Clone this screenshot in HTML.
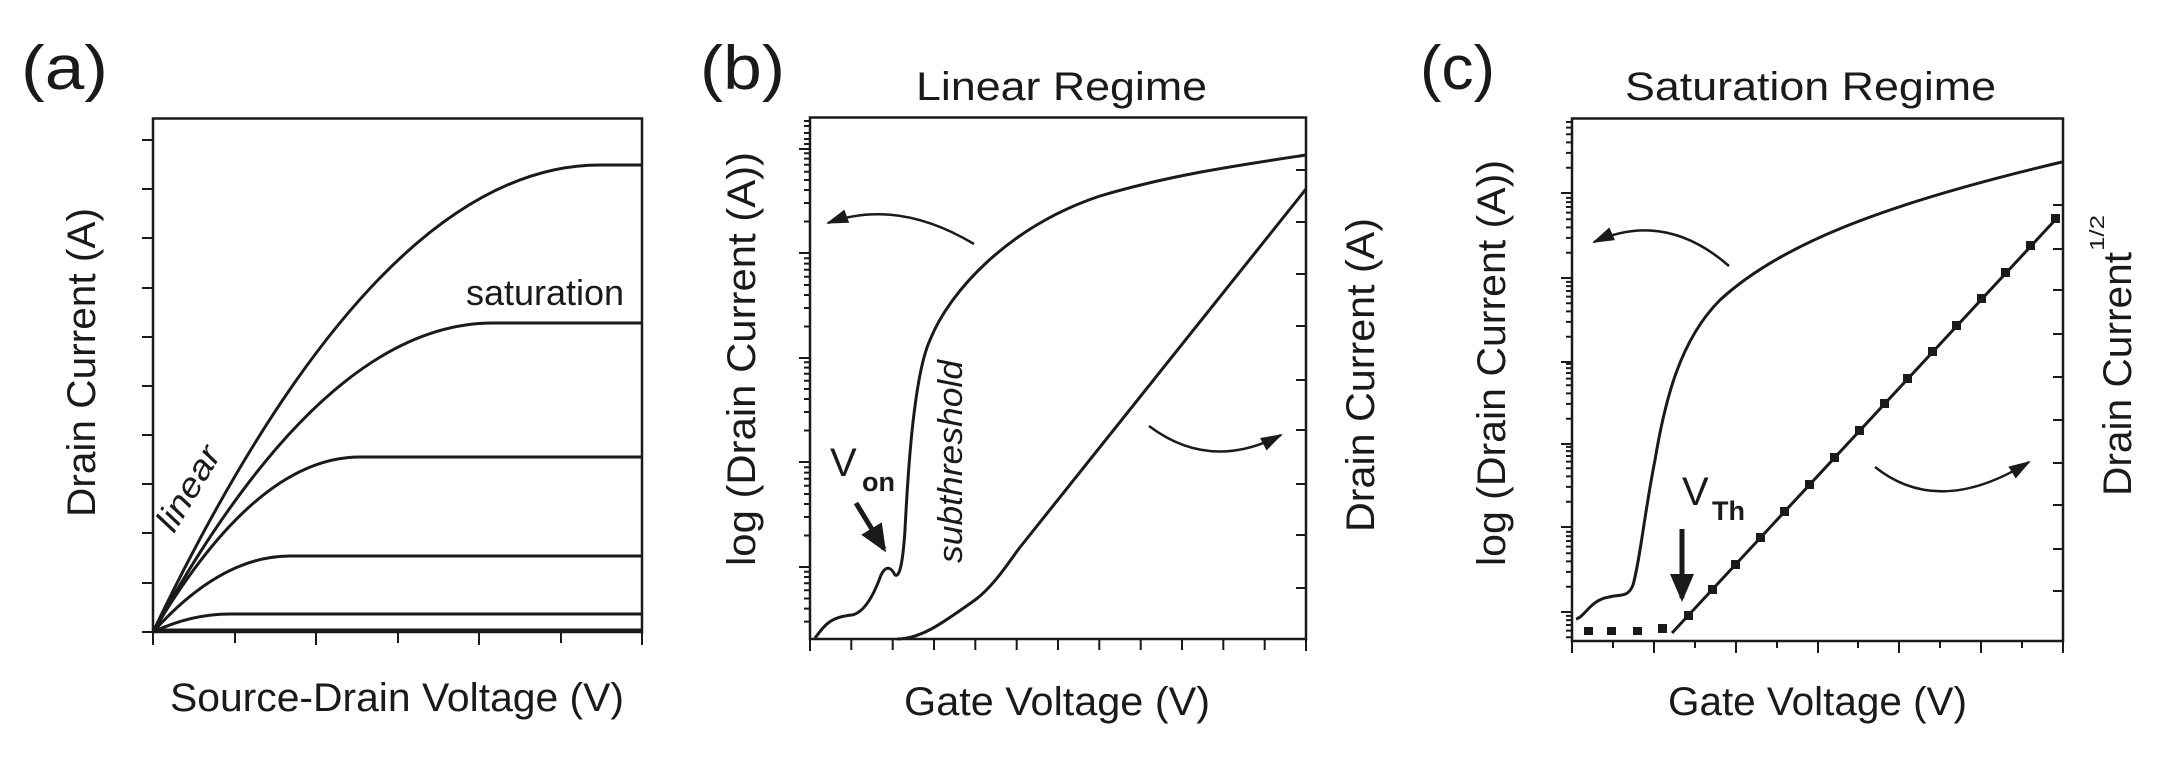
<!DOCTYPE html>
<html><head><meta charset="utf-8"><style>
html,body{margin:0;padding:0;background:#fff;}
svg{display:block;}
text{font-family:"Liberation Sans",Arial,sans-serif;fill:#1a1a1a;}
</style></head><body>
<svg width="2160" height="758" viewBox="0 0 2160 758" xmlns="http://www.w3.org/2000/svg">
<defs>
<marker id="ah" markerUnits="userSpaceOnUse" markerWidth="24" markerHeight="18" refX="20" refY="9" orient="auto">
<path d="M0,2 L22,9 L0,16 Z" fill="#1a1a1a"/></marker>
<marker id="ahb" markerUnits="userSpaceOnUse" markerWidth="30" markerHeight="30" refX="24" refY="15" orient="auto">
<path d="M0,3 L28,15 L0,27 Z" fill="#1a1a1a"/></marker>
</defs>
<g fill="none" stroke="#1a1a1a" stroke-width="3">
<!-- Panel a -->
<rect x="153" y="118.5" width="489" height="513.5" stroke-width="2.5"/>
<path stroke-width="2" d="M142 140H153M142 189H153M142 238H153M142 288H153M142 337H153M142 386H153M142 435H153M142 484H153M142 533H153M142 583H153M142 632H153
M153 632V645M235 632V643M316 632V645M398 632V643M479 632V645M561 632V643M642 632V645"/>
<path d="M153 632 Q376 165 600 165 L642 165"/>
<path d="M153 632 Q323 323 493 323 L642 323"/>
<path d="M153 632 Q256 457 360 457 L642 457"/>
<path d="M153 632 Q221 556 290 556 L642 556"/>
<path d="M153 632 Q191 614 230 614 L642 614"/>
<path d="M153 630 L642 630"/>
<!-- Panel b -->
<rect x="810" y="117.5" width="496" height="521.5" stroke-width="2.5"/>
<path stroke-width="2" d="M799 149H810M799 253H810M799 358H810M799 462H810M799 567H810
M804 221.5H810M804 203H810M804 190H810M804 180H810M804 171.7H810M804 164.7H810M804 158.6H810M804 153.3H810
M804 326.5H810M804 308H810M804 295H810M804 285H810M804 276.7H810M804 269.7H810M804 263.6H810M804 258.3H810
M804 430.5H810M804 412H810M804 399H810M804 389H810M804 380.7H810M804 373.7H810M804 367.6H810M804 362.3H810
M804 535.5H810M804 517H810M804 504H810M804 494H810M804 485.7H810M804 478.7H810M804 472.6H810M804 467.3H810
M804 621.6H810M804 608.6H810M804 598.5H810M804 590.2H810M804 583.2H810M804 577H810M804 571.8H810
M804 144H810M804 139H810M804 133H810M804 126H810M804 121H810
M1306 170H1296M1306 222H1296M1306 274H1296M1306 326H1296M1306 380H1296M1306 430H1296M1306 484H1296M1306 535H1296M1306 588H1296
M810 639V651M851.3 639V650M892.7 639V650M934 639V650M975.3 639V650M1016.7 639V650M1058 639V650M1099.3 639V650M1140.7 639V650M1182 639V650M1223.3 639V650M1264.7 639V650M1306 639V651"/>
<path d="M815 638 C825 625,830 617,852 615 C862 613,872 600,881 575 C885 567,890 565,895 575 C900 578,903 560,905 530 C908 470,914 375,930 340 C950 290,1010 226,1100 196 C1170 175,1240 165,1306 155"/>
<path d="M897 639 C920 639,940 625,975 600 C995 585,1010 560,1021 546 L1306 189"/>
<path stroke-width="2.5" d="M974 244 Q897 198 828 223" marker-end="url(#ah)"/>
<path stroke-width="2.5" d="M1149 426 Q1210 472 1281 435" marker-end="url(#ah)"/>
<path stroke-width="5" d="M856 503 L884 549" marker-end="url(#ahb)"/>
<!-- Panel c -->
<rect x="1572" y="118.5" width="491" height="522.5" stroke-width="2.5"/>
<path stroke-width="2" d="M1561 193H1572M1561 278H1572M1561 362H1572M1561 444H1572M1561 527H1572M1561 612H1572
M1566 167.7H1572M1566 152.9H1572M1566 142.4H1572M1566 134.3H1572M1566 127.6H1572M1566 122H1572
M1566 252.7H1572M1566 237.9H1572M1566 227.4H1572M1566 219.3H1572M1566 212.6H1572M1566 207H1572M1566 202.1H1572M1566 197.9H1572
M1566 336.7H1572M1566 321.9H1572M1566 311.4H1572M1566 303.3H1572M1566 296.6H1572M1566 291H1572M1566 286.1H1572M1566 281.9H1572
M1566 418.7H1572M1566 403.9H1572M1566 393.4H1572M1566 385.3H1572M1566 378.6H1572M1566 373H1572M1566 368.1H1572M1566 363.9H1572
M1566 501.7H1572M1566 486.9H1572M1566 476.4H1572M1566 468.3H1572M1566 461.6H1572M1566 456H1572M1566 451.1H1572M1566 446.9H1572
M1566 586.7H1572M1566 571.9H1572M1566 561.4H1572M1566 553.3H1572M1566 546.6H1572M1566 541H1572M1566 536.1H1572M1566 531.9H1572
M1566 637.3H1572M1566 630.6H1572M1566 625H1572M1566 620.1H1572M1566 615.9H1572
M2063 205H2053M2063 249H2053M2063 290H2053M2063 334H2053M2063 377H2053M2063 420H2053M2063 463H2053M2063 505H2053M2063 549H2053M2063 591H2053
M1572 641V653M1613 641V648M1654 641V653M1695 641V648M1736 641V653M1777 641V648M1818 641V653M1858 641V648M1899 641V653M1940 641V648M1981 641V653M2022 641V648M2063 641V653"/>
<path d="M1576 619 C1585 617,1590 600,1609 597 C1620 594,1628 598,1633 585 C1640 560,1645 510,1655 460 C1665 400,1680 340,1720 300 C1780 245,1880 205,2062 162"/>
<path d="M1672 633 L2057 218"/>
<path stroke-width="2.5" d="M1729 266 Q1665 210 1594 242" marker-end="url(#ah)"/>
<path stroke-width="2.5" d="M1875 467 Q1939 518 2029 462" marker-end="url(#ah)"/>
<path stroke-width="5" d="M1682 529 L1682 598" marker-end="url(#ahb)"/>
</g>
<g fill="#1a1a1a">
<rect x="1584" y="627" width="9" height="8"/><rect x="1607" y="627" width="9" height="8"/><rect x="1633" y="627" width="9" height="8"/><rect x="1658" y="624" width="9" height="9"/>
<rect x="1684" y="611" width="9" height="9"/><rect x="1708" y="585" width="9" height="9"/><rect x="1731" y="560" width="9" height="9"/><rect x="1756" y="533" width="9" height="9"/><rect x="1780" y="507" width="9" height="9"/><rect x="1805" y="480" width="9" height="9"/><rect x="1830" y="453" width="9" height="9"/><rect x="1855" y="426" width="9" height="9"/><rect x="1880" y="399" width="9" height="9"/><rect x="1903" y="374" width="9" height="9"/><rect x="1928" y="347" width="9" height="9"/><rect x="1952" y="321" width="9" height="9"/><rect x="1977" y="294" width="9" height="9"/><rect x="2001" y="268" width="9" height="9"/><rect x="2026" y="241" width="9" height="9"/><rect x="2051" y="214" width="9" height="9"/>
</g>
<!-- text -->
<text x="21" y="89" font-size="62" textLength="87" lengthAdjust="spacingAndGlyphs">(a)</text>
<text x="700" y="89" font-size="62" textLength="85" lengthAdjust="spacingAndGlyphs">(b)</text>
<text x="1420" y="89" font-size="62" textLength="75" lengthAdjust="spacingAndGlyphs">(c)</text>
<text x="916" y="100" font-size="40" textLength="291" lengthAdjust="spacingAndGlyphs">Linear Regime</text>
<text x="1625" y="100" font-size="40" textLength="371" lengthAdjust="spacingAndGlyphs">Saturation Regime</text>
<text x="170" y="711" font-size="40" textLength="454" lengthAdjust="spacingAndGlyphs">Source-Drain Voltage (V)</text>
<text x="904" y="715" font-size="40" textLength="306" lengthAdjust="spacingAndGlyphs">Gate Voltage (V)</text>
<text x="1668" y="715" font-size="40" textLength="299" lengthAdjust="spacingAndGlyphs">Gate Voltage (V)</text>
<text transform="translate(95,517) rotate(-90)" font-size="40" textLength="309" lengthAdjust="spacingAndGlyphs">Drain Current (A)</text>
<text transform="translate(755,566) rotate(-90)" font-size="40" textLength="414" lengthAdjust="spacingAndGlyphs">log (Drain Current (A))</text>
<text transform="translate(1374,532) rotate(-90)" font-size="40" textLength="314" lengthAdjust="spacingAndGlyphs">Drain Current (A)</text>
<text transform="translate(1505,566) rotate(-90)" font-size="40" textLength="406" lengthAdjust="spacingAndGlyphs">log (Drain Current (A))</text>
<text transform="translate(2131,496) rotate(-90)" font-size="40" textLength="244" lengthAdjust="spacingAndGlyphs">Drain Current</text>
<text transform="translate(2104,251) rotate(-90)" font-size="20" textLength="36" lengthAdjust="spacingAndGlyphs">1/2</text>
<text x="466" y="305" font-size="36" textLength="158" lengthAdjust="spacingAndGlyphs">saturation</text>
<text transform="translate(174,534) rotate(-59)" font-size="34" font-style="italic" textLength="93" lengthAdjust="spacingAndGlyphs">linear</text>
<text transform="translate(962,563) rotate(-90)" font-size="34" font-style="italic" textLength="203" lengthAdjust="spacingAndGlyphs">subthreshold</text>
<text x="830" y="476" font-size="40">V</text>
<text x="862" y="491" font-size="27" font-weight="bold">on</text>
<text x="1682" y="505" font-size="40">V</text>
<text x="1712" y="520" font-size="27" font-weight="bold">Th</text>
</svg>
</body></html>
